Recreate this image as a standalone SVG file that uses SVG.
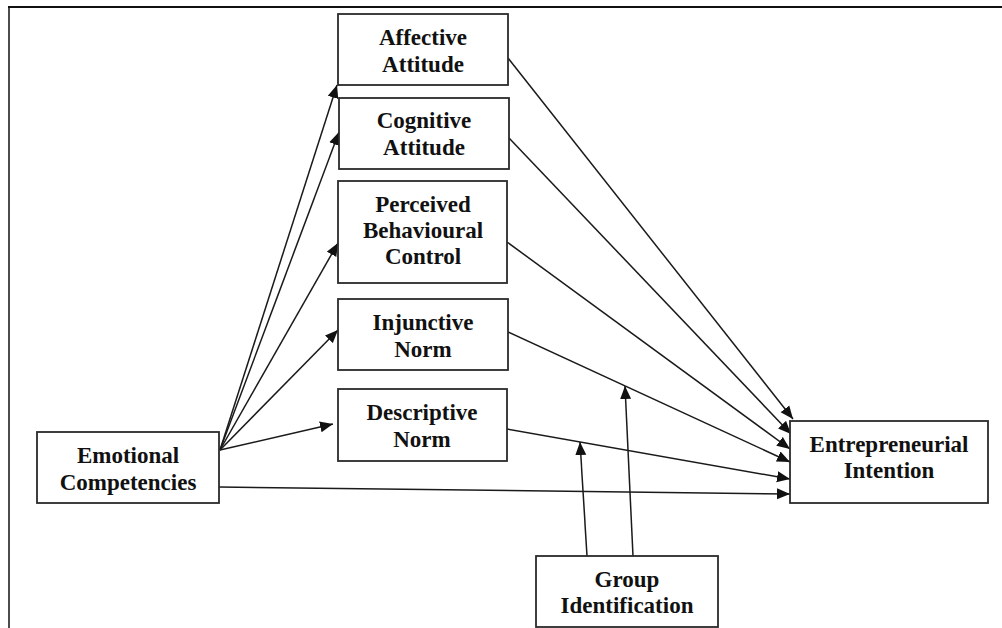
<svg xmlns="http://www.w3.org/2000/svg" width="1002" height="628" viewBox="0 0 1002 628">
<style>
  .box { fill: #ffffff; stroke: #2a2a2a; stroke-width: 1.8; }
  .lbl { font-family: "Liberation Serif", "Times New Roman", serif; font-weight: bold; font-size: 23px; fill: #111; text-anchor: middle; }
  .edge { stroke: #1a1a1a; stroke-width: 1.5; fill: none; marker-end: url(#arr); }
  .frame { stroke: #111; fill: none; }
</style>
<defs>
  <marker id="arr" markerUnits="userSpaceOnUse" markerWidth="14" markerHeight="12" refX="13" refY="6" orient="auto">
    <path d="M0,0.5 L13,6 L0,11.5 z" fill="#111"/>
  </marker>
</defs>
<rect width="1002" height="628" fill="#ffffff"/>
<g id="frame">
  <line class="frame" x1="8" y1="7" x2="1002" y2="7" stroke-width="2"/>
  <line class="frame" x1="9" y1="7" x2="9" y2="628" stroke-width="1.5" stroke="#555"/>
</g>
<g id="connectors">
  <line class="edge" x1="220" y1="450" x2="337" y2="85"/>
  <line class="edge" x1="220" y1="450" x2="339" y2="132"/>
  <line class="edge" x1="220" y1="450" x2="338" y2="243"/>
  <line class="edge" x1="220" y1="450" x2="338" y2="330"/>
  <line class="edge" x1="220" y1="450" x2="333" y2="424"/>
  <line class="edge" x1="219" y1="487" x2="790" y2="494"/>
  <line class="edge" x1="508" y1="58" x2="793" y2="419"/>
  <line class="edge" x1="509" y1="138" x2="791" y2="434"/>
  <line class="edge" x1="507" y1="242" x2="790" y2="449"/>
  <line class="edge" x1="508" y1="332" x2="790" y2="462"/>
  <line class="edge" x1="507" y1="429" x2="790" y2="479"/>
  <line class="edge" x1="587" y1="556" x2="580" y2="442"/>
  <line class="edge" x1="633" y1="556" x2="625" y2="386"/>
</g>
<g id="affective">
  <rect class="box" x="338" y="14" width="170" height="71"/>
  <text class="lbl" x="423" y="45">Affective</text>
  <text class="lbl" x="423" y="72">Attitude</text>
</g>
<g id="cognitive">
  <rect class="box" x="339" y="98" width="170" height="71"/>
  <text class="lbl" x="424" y="128">Cognitive</text>
  <text class="lbl" x="424" y="155">Attitude</text>
</g>
<g id="pbc">
  <rect class="box" x="338" y="181" width="169" height="102"/>
  <text class="lbl" x="423" y="212">Perceived</text>
  <text class="lbl" x="423" y="238">Behavioural</text>
  <text class="lbl" x="423" y="264">Control</text>
</g>
<g id="injunctive">
  <rect class="box" x="338" y="299" width="170" height="71"/>
  <text class="lbl" x="423" y="330">Injunctive</text>
  <text class="lbl" x="423" y="357">Norm</text>
</g>
<g id="descriptive">
  <rect class="box" x="338" y="389" width="169" height="72"/>
  <text class="lbl" x="422" y="420">Descriptive</text>
  <text class="lbl" x="422" y="447">Norm</text>
</g>
<g id="emotional">
  <rect class="box" x="37" y="432" width="182" height="71"/>
  <text class="lbl" x="128" y="463">Emotional</text>
  <text class="lbl" x="128" y="490">Competencies</text>
</g>
<g id="intention">
  <rect class="box" x="790" y="421" width="198" height="82"/>
  <text class="lbl" x="889" y="452">Entrepreneurial</text>
  <text class="lbl" x="889" y="478">Intention</text>
</g>
<g id="group">
  <rect class="box" x="536" y="556" width="182" height="71"/>
  <text class="lbl" x="627" y="587">Group</text>
  <text class="lbl" x="627" y="613">Identification</text>
</g>
</svg>
